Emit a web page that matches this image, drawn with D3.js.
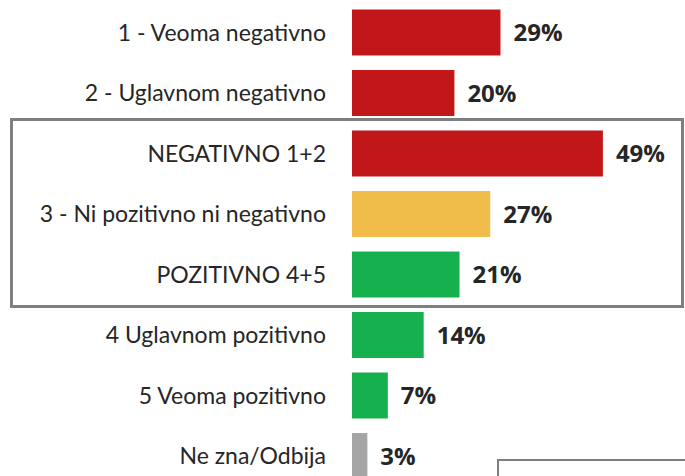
<!DOCTYPE html>
<html><head><meta charset="utf-8">
<script src="https://cdn.jsdelivr.net/npm/d3@7/dist/d3.min.js"></script>
<style>body{margin:0;background:#fff}svg{display:block}</style>
</head><body>
<script>
const categories = ["1 - Veoma negativno","2 - Uglavnom negativno","NEGATIVNO 1+2","3 - Ni pozitivno ni negativno","POZITIVNO 4+5","4 Uglavnom pozitivno","5 Veoma pozitivno","Ne zna/Odbija"];
const values = [29,20,49,27,21,14,7,3];
const colors = ["#C11718","#C11718","#C11718","#F0BC4A","#17B04F","#17B04F","#17B04F","#A5A5A5"];

const W=685,H=476;
const svg=d3.select("body").append("svg").attr("width",W).attr("height",H);
const x=d3.scaleLinear().domain([0,100]).range([352,352+512]);
const y=d3.scaleBand().domain(categories).range([9.5,479]).paddingInner(0.24).paddingOuter(0);

// highlight box
svg.append("rect").attr("x",11.5).attr("y",119.5)
  .attr("width",671).attr("height",187)
  .attr("fill","none").attr("stroke","#7f7f7f").attr("stroke-width",3);
// bottom-right box fragment
svg.append("rect").attr("x",498).attr("y",460).attr("width",300).attr("height",100)
  .attr("fill","none").attr("stroke","#7f7f7f").attr("stroke-width",2);

svg.selectAll(".bar").data(values).enter().append("rect")
  .attr("x",x(0)).attr("y",(d,i)=>y(categories[i])).attr("width",d=>x(d)-x(0))
  .attr("height",y.bandwidth()).attr("fill",(d,i)=>colors[i]);

svg.selectAll(".lab").data(categories).enter().append("text")
  .attr("x",326).attr("y",d=>y(d)+y.bandwidth()/2).attr("dy","0.35em")
  .attr("text-anchor","end").attr("font-family","Lato, sans-serif").attr("font-size",23)
  .attr("fill","#262626").text(d=>d);

svg.selectAll(".val").data(values).enter().append("text")
  .attr("x",d=>x(d)+13).attr("y",(d,i)=>y(categories[i])+y.bandwidth()/2).attr("dy","0.36em")
  .attr("font-family","'Open Sans', sans-serif").attr("font-weight","bold").attr("font-size",24)
  .attr("fill","#262626").text(d=>d+"%");
</script>
</body></html>
